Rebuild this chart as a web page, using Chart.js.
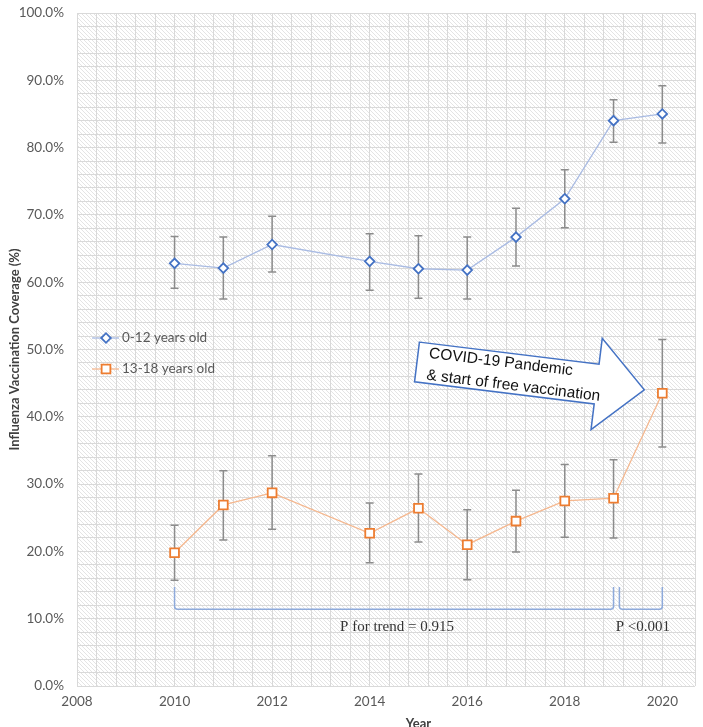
<!DOCTYPE html>
<html>
<head>
<meta charset="utf-8">
<script src="https://cdn.jsdelivr.net/npm/chart.js@4.4.1/dist/chart.umd.min.js"></script>
<style>
  html, body { margin: 0; padding: 0; background: #fff; }
  #wrap { width: 703px; height: 727px; overflow: hidden; }
</style>
</head>
<body>
<div id="wrap"><canvas id="chart" width="703" height="727"></canvas></div>
<script>
// survey years
const years = [2010, 2011, 2012, 2014, 2015, 2016, 2017, 2018, 2019, 2020];

// 0-12 years old, coverage % and 95% CI
const kids = [62.8, 62.1, 65.6, 63.1, 62.0, 61.8, 66.7, 72.4, 84.0, 85.0];
const kidsHigh = [66.8, 66.7, 69.8, 67.2, 66.9, 66.7, 71.0, 76.7, 87.1, 89.2];
const kidsLow = [59.1, 57.5, 61.5, 58.8, 57.6, 57.5, 62.4, 68.1, 80.8, 80.7];

// 13-18 years old
const teens = [19.8, 26.9, 28.7, 22.7, 26.4, 21.0, 24.5, 27.5, 27.9, 43.5];
const teensHigh = [23.9, 32.0, 34.2, 27.2, 31.5, 26.2, 29.1, 32.9, 33.6, 51.5];
const teensLow = [15.7, 21.7, 23.3, 18.3, 21.4, 15.8, 19.9, 22.1, 22.0, 35.5];

const seriesNames = ["0-12 years old", "13-18 years old"];

// annotations
const arrowLines = ["COVID-19 Pandemic", "& start of free vaccination"];
const arrowTip = [2019.63, 44.0];
const bracketSpans = [[2010, 2019], [2019.12, 2020]];
const bracketLevels = [14.7, 11.4];
const pTexts = ["P for trend = 0.915", "P <0.001"];
const pYears = [2014.56, 2019.6];
const pLevel = 8.8;

Chart.defaults.font.family = "Lato";

const hatch = document.createElement("canvas");
hatch.width = 4;
hatch.height = 4;
const hctx = hatch.getContext("2d");
hctx.strokeStyle = "#e4e4e4";
hctx.lineWidth = 1;
hctx.beginPath();
hctx.moveTo(-1, -1); hctx.lineTo(5, 5);
hctx.moveTo(3, -1); hctx.lineTo(5, 1);
hctx.moveTo(-1, 3); hctx.lineTo(1, 5);
hctx.stroke();

const background = {
  id: "background",
  beforeDraw(chart) {
    const { ctx, chartArea: a } = chart;
    ctx.save();
    ctx.fillStyle = "#fff";
    ctx.fillRect(0, 0, chart.width, chart.height);
    ctx.fillStyle = ctx.createPattern(hatch, "repeat");
    ctx.fillRect(a.left, a.top, a.right - a.left, a.bottom - a.top);
    ctx.restore();
  },
};

const errorBars = {
  id: "errorBars",
  beforeDatasetsDraw(chart) {
    const { ctx, scales: { x, y } } = chart;
    const bars = [[kidsHigh, kidsLow], [teensHigh, teensLow]];
    ctx.save();
    ctx.strokeStyle = "#8c8c8c";
    ctx.lineWidth = 1.5;
    bars.forEach(([hi, lo]) => {
      years.forEach((yr, i) => {
        const px = x.getPixelForValue(yr);
        const top = y.getPixelForValue(hi[i]);
        const bot = y.getPixelForValue(lo[i]);
        ctx.beginPath();
        ctx.moveTo(px, top); ctx.lineTo(px, bot);
        ctx.moveTo(px - 4, top); ctx.lineTo(px + 4, top);
        ctx.moveTo(px - 4, bot); ctx.lineTo(px + 4, bot);
        ctx.stroke();
      });
    });
    ctx.restore();
  },
};

const extras = {
  id: "extras",
  afterDatasetsDraw(chart) {
    const { ctx, chartArea: a, scales: { x, y } } = chart;
    ctx.save();

    // legend inside the plot
    chart.data.datasets.forEach((ds, i) => {
      const ly = a.top + 325 + i * 31;
      ctx.strokeStyle = ds.borderColor;
      ctx.lineWidth = 1.3;
      ctx.beginPath();
      ctx.moveTo(a.left + 15, ly); ctx.lineTo(a.left + 42, ly);
      ctx.stroke();
      ctx.fillStyle = "#fff";
      ctx.strokeStyle = ds.pointBorderColor;
      ctx.lineWidth = ds.pointBorderWidth;
      Chart.helpers.drawPoint(ctx, { pointStyle: ds.pointStyle, radius: ds.pointRadius, rotation: 0, borderWidth: ds.pointBorderWidth }, a.left + 29, ly);
      ctx.fillStyle = "#595959";
      ctx.font = "13.5px Lato";
      ctx.textAlign = "left";
      ctx.textBaseline = "middle";
      ctx.fillText(ds.label, a.left + 45, ly);
    });

    // brackets
    ctx.strokeStyle = "#8eaadb";
    ctx.lineWidth = 1.5;
    const bt = y.getPixelForValue(bracketLevels[0]);
    const bb = y.getPixelForValue(bracketLevels[1]);
    bracketSpans.forEach(([s, e]) => {
      const x1 = x.getPixelForValue(s), x2 = x.getPixelForValue(e);
      ctx.beginPath();
      ctx.moveTo(x1, bt);
      ctx.lineTo(x1, bb - 3);
      ctx.quadraticCurveTo(x1, bb, x1 + 3, bb);
      ctx.lineTo(x2 - 3, bb);
      ctx.quadraticCurveTo(x2, bb, x2, bb - 3);
      ctx.lineTo(x2, bt);
      ctx.stroke();
    });

    ctx.fillStyle = "#333";
    ctx.font = '15px "Liberation Serif"';
    ctx.textAlign = "center";
    ctx.textBaseline = "middle";
    pTexts.forEach((t, i) => {
      ctx.fillText(t, x.getPixelForValue(pYears[i]), y.getPixelForValue(pLevel));
    });

    // arrow callout
    ctx.translate(x.getPixelForValue(arrowTip[0]), y.getPixelForValue(arrowTip[1]));
    ctx.rotate(7 * Math.PI / 180);
    ctx.beginPath();
    ctx.moveTo(-229, -20);
    ctx.lineTo(-48, -20);
    ctx.lineTo(-48, -46);
    ctx.lineTo(0, 0);
    ctx.lineTo(-48, 46);
    ctx.lineTo(-48, 20);
    ctx.lineTo(-229, 20);
    ctx.closePath();
    ctx.fillStyle = "#fff";
    ctx.fill();
    ctx.strokeStyle = "#4472c4";
    ctx.lineWidth = 1.5;
    ctx.stroke();
    ctx.fillStyle = "#111";
    ctx.font = '15.5px "Liberation Sans"';
    ctx.textAlign = "left";
    ctx.textBaseline = "middle";
    ctx.fillText(arrowLines[0], -218, -10);
    ctx.fillText(arrowLines[1], -218, 12);
    ctx.restore();

    // x axis title, cut by the bottom edge like the original
    ctx.save();
    ctx.fillStyle = "#404040";
    ctx.font = "bold 13px Lato";
    ctx.textAlign = "center";
    ctx.textBaseline = "top";
    ctx.fillText("Year", x.getPixelForValue(2015), 717);
    ctx.restore();
  },
};

const graph = document.getElementById("chart");
new Chart(graph, {
  type: "line",
  data: {
    datasets: [
      {
        label: seriesNames[0],
        data: years.map((yr, i) => ({ x: yr, y: kids[i] })),
        borderColor: "#a9bbe3",
        borderWidth: 1.3,
        pointStyle: "rectRot",
        pointRadius: 4.8,
        pointBorderColor: "#4472c4",
        pointBackgroundColor: "#fff",
        pointBorderWidth: 1.8,
      },
      {
        label: seriesNames[1],
        data: years.map((yr, i) => ({ x: yr, y: teens[i] })),
        borderColor: "#f5b78e",
        borderWidth: 1.3,
        pointStyle: "rect",
        pointRadius: 6.2,
        pointBorderColor: "#ed7d31",
        pointBackgroundColor: "#fff",
        pointBorderWidth: 1.8,
      },
    ],
  },
  options: {
    responsive: false,
    animation: false,
    devicePixelRatio: 1,
    layout: { padding: { top: 13, right: 0, left: 0, bottom: 0 } },
    scales: {
      x: {
        type: "linear",
        min: 2008,
        max: 2020.67,
        afterFit: (s) => { s.height = 41; s.paddingLeft = 0; s.paddingRight = 0; },
        grid: { color: "#d9d9d9", drawTicks: false },
        border: { display: false },
        ticks: {
          stepSize: 0.4,
          autoSkip: false,
          maxRotation: 0,
          padding: 8,
          color: "#595959",
          font: { size: 13.5 },
          callback: (v) => {
            const r = Math.round(v);
            return Math.abs(v - r) < 1e-6 && r % 2 === 0 ? String(r) : "";
          },
        },
      },
      y: {
        min: 0,
        max: 100,
        afterFit: (s) => { s.width = 77; s.paddingTop = 0; s.paddingBottom = 0; },
        grid: { color: "#d9d9d9", drawTicks: false },
        border: { display: false },
        title: {
          display: true,
          text: "Influenza Vaccination Coverage (%)",
          color: "#404040",
          font: { size: 13, weight: "bold" },
          padding: { top: 7, bottom: 0 },
        },
        ticks: {
          stepSize: 2,
          autoSkip: false,
          padding: 13,
          color: "#595959",
          font: { size: 13.5 },
          callback: (v) => (Math.round(v) % 10 === 0 ? v.toFixed(1) + "%" : ""),
        },
      },
    },
    plugins: {
      legend: { display: false },
      tooltip: { enabled: false },
    },
  },
  plugins: [background, errorBars, extras],
});
</script>
</body>
</html>
